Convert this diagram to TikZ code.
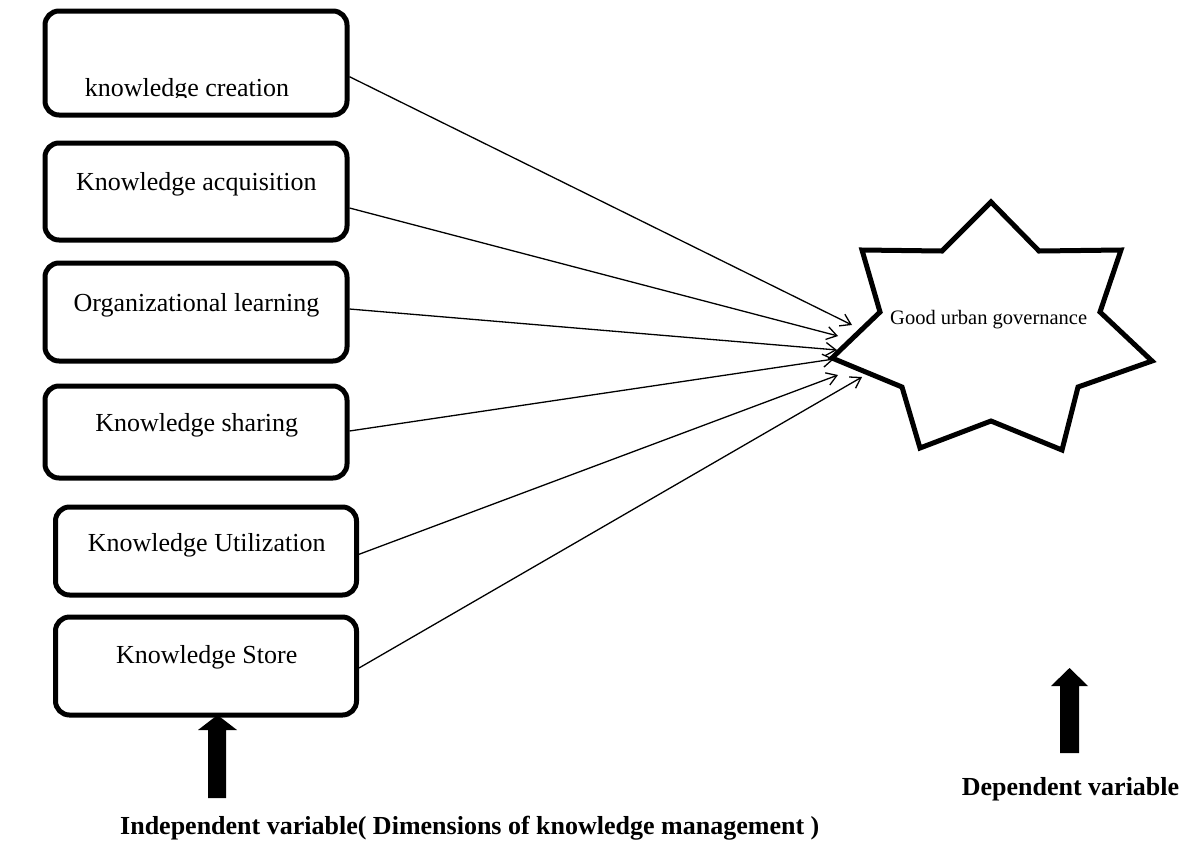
\documentclass[tikz,border=0pt]{standalone}
\usepackage{fontspec}
\setmainfont{Liberation Serif}
\usetikzlibrary{arrows.meta}
\tikzset{
  kbox/.style={draw=black, line width=5pt, rounded corners=14pt, fill=white, inner sep=0pt},
  ktext/.style={anchor=base, inner sep=0pt, font=\fontsize{26}{30}\selectfont},
  conn/.style={draw=black, line width=1.3pt, -{Straight Barb[length=10pt,width=13pt,line width=1.3pt]}},
  starline/.style={draw=black, line width=5pt, line join=miter, fill=white},
  bigarrow/.style={fill=black, draw=none},
  lbl/.style={inner sep=0pt, font=\fontsize{26}{30}\selectfont\bfseries}
}
\begin{document}
\begin{tikzpicture}[x=1pt,y=-1pt]
\useasboundingbox (0,0) rectangle (1188,844);
% boxes
\node[kbox, minimum width=302pt, minimum height=104pt] (b1) at (196,63) {};
\node[kbox, minimum width=302pt, minimum height=97pt] (b2) at (196,191.5) {};
\node[kbox, minimum width=302pt, minimum height=98pt] (b3) at (196,312) {};
\node[kbox, minimum width=302pt, minimum height=92pt] (b4) at (196,432) {};
\node[kbox, minimum width=301pt, minimum height=88pt] (b5) at (206,551) {};
\node[kbox, minimum width=301pt, minimum height=98pt] (b6) at (206,666) {};
% texts
\begin{scope}
\clip (45,0) rectangle (348,97.5);
\node[ktext] (t1) at (187,96.5) {knowledge creation};
\end{scope}
\node[ktext] (t2) at (196.3,190) {Knowledge acquisition};
\node[ktext] (t3) at (196.5,311.7) {Organizational learning};
\node[ktext] (t4) at (196.7,431.7) {Knowledge sharing};
\node[ktext] (t5) at (206.7,551.7) {Knowledge Utilization};
\node[ktext] (t6) at (206.7,663) {Knowledge Store};
% star
\draw[starline] (991,202) -- (1039,251) -- (1121,250) -- (1100,312) -- (1152,361)
  -- (1078,387) -- (1062,450) -- (991,421) -- (920,448) -- (902,387)
  -- (832,358) -- (880,312) -- (862,250) -- (942,251) -- cycle;
\node[anchor=base, inner sep=0pt, font=\fontsize{20.5}{24}\selectfont] (goal) at (988.7,324) {Good urban governance};
% arrow tips
\coordinate (e1) at (852,325);
\coordinate (e2) at (838,336);
\coordinate (e3) at (837,350);
\coordinate (e4) at (834,359);
\coordinate (e5) at (838,375);
\coordinate (e6) at (862,377);
% connectors
\draw[conn] ([yshift=-13.7pt]b1.east) -- (e1);
\draw[conn] ([yshift=-16.5pt]b2.east) -- (e2);
\draw[conn] ([yshift=3pt]b3.east) -- (e3);
\draw[conn] ([yshift=1pt]b4.east) -- (e4);
\draw[conn] ([yshift=-3.3pt]b5.east) -- (e5);
\draw[conn] ([yshift=-2pt]b6.east) -- (e6);
% thick arrows
\fill[bigarrow] (217.5,715) -- (237,730) -- (226,730) -- (226,798) -- (208,798) -- (208,730) -- (198,730) -- cycle;
\fill[bigarrow] (1069.5,668) -- (1088,686) -- (1079,686) -- (1079,753) -- (1060,753) -- (1060,686) -- (1051,686) -- cycle;
% labels
\node[lbl, anchor=base] (dep) at (1070.5,795) {Dependent variable};
\node[lbl, anchor=base west] (indep) at (120,834) {Independent variable( Dimensions of knowledge management )};
\end{tikzpicture}
\end{document}
